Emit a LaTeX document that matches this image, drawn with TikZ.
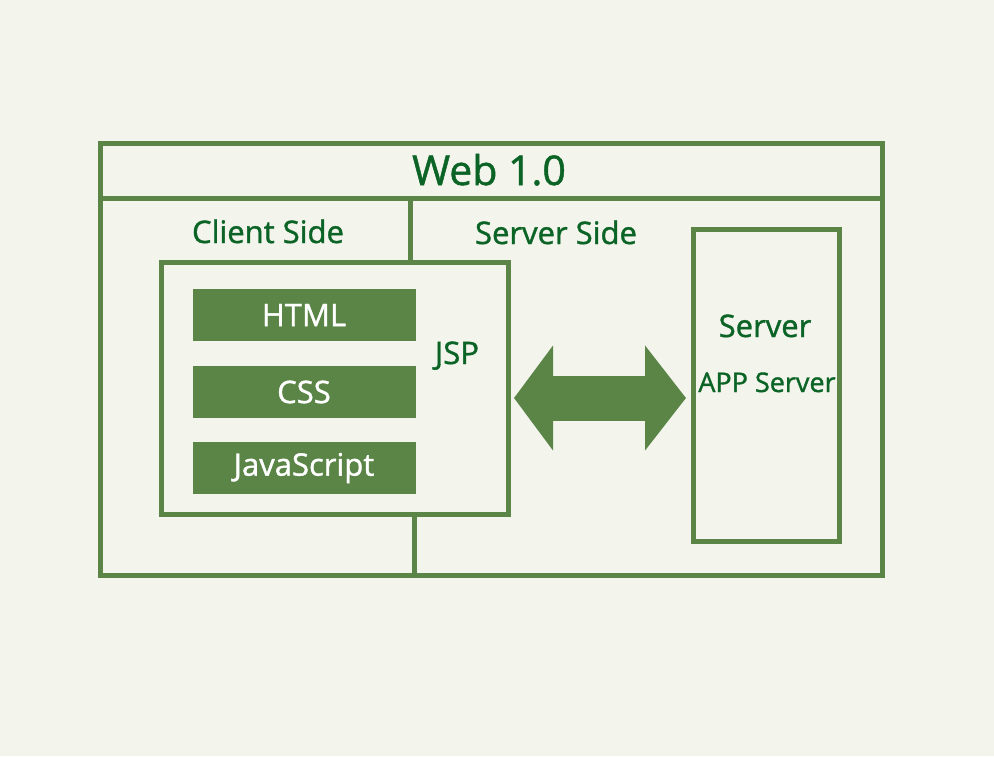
\documentclass[tikz,border=0pt]{standalone}
\usepackage{fontspec}
\setmainfont{Open Sans}[FakeBold=1.2]
\usetikzlibrary{arrows.meta, positioning, calc}
\definecolor{wgreen}{HTML}{5A8547}
\definecolor{wtext}{HTML}{0B6426}
\definecolor{wpaper}{HTML}{F3F4EC}

\begin{document}
\begin{tikzpicture}[x=1pt, y=-1pt,
  wbox/.style={draw=wgreen, line width=5pt, outer sep=0pt, inner sep=0pt},
  wline/.style={draw=wgreen, line width=5pt},
  wbar/.style={fill=wgreen, text=white, minimum width=223, minimum height=52,
    outer sep=0pt, inner sep=0pt, font=\fontsize{31}{31}\selectfont},
  wlabel/.style={text=wtext, inner sep=0pt, text height=22pt, text depth=0pt,
    font=\fontsize{31}{31}\selectfont}]
\fill[wpaper] (0,0) rectangle (994,756);
% frame with title row
\node[wbox, minimum width=782, minimum height=432] (web) at (491,359) {};
\draw[wline] (100,198) -- (882,198);
\node[wlabel, text height=30pt, font=\fontsize{41}{41}\selectfont] (title) at (489,170) {Web 1.0};
\draw[wline] (410,198) -- (410,262);
\draw[wline] (414,514) -- (414,575);
\node[wlabel] (client) at (268,232) {Client Side};
\node[wlabel] (serverside) at (556,233) {Server Side};
% client side
\node[wbox, minimum width=347, minimum height=252] (jsp) at (334.5,388) {};
\node[wbar] (html) at (304,315) {HTML};
\node[wbar] (css) at (304,392) {CSS};
\node[wbar] (js) at (304,468) {JavaScript};
\node[wlabel] (jsplabel) at (457,353) {JSP};
% server side
\node[wbox, minimum width=146, minimum height=312] (srv) at (766,385) {};
\node[wlabel] (srvname) at (765,326) {Server};
\node[wlabel, text height=20pt, font=\fontsize{27}{27}\selectfont] (app) at (767,382) {APP Server};
\draw[wgreen, line width=45pt, {Triangle[length=39pt,width=103pt]}-{Triangle[length=41pt,width=103pt]},
  shorten <=6pt, shorten >=7pt] ([yshift=-10pt]jsp.east) -- ([yshift=-10pt]jsp.east -| srv.west);
\end{tikzpicture}
\end{document}
